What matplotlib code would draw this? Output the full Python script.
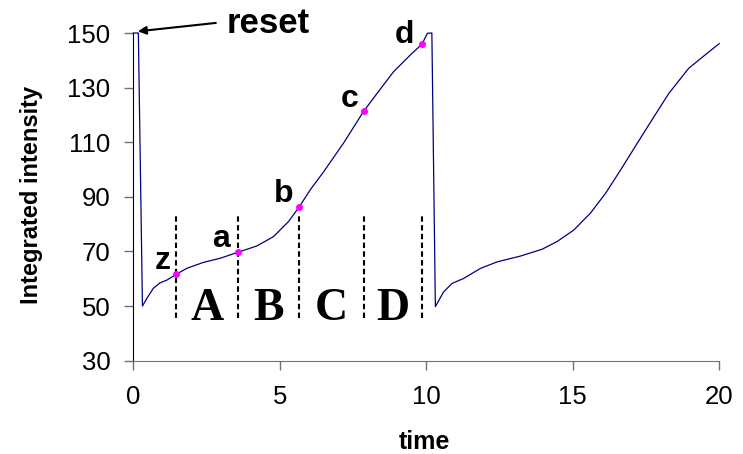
import matplotlib
matplotlib.use("Agg")
import matplotlib.pyplot as plt

plt.rcParams['font.family'] = ['Liberation Sans', 'DejaVu Sans']

# curve (two charge/reset cycles)
time_vals = [0.0, 0.17, 0.31, 0.46, 0.68, 0.91, 1.14, 1.46, 1.82, 2.39, 2.96,
             3.57, 4.21, 4.78, 5.30, 5.66, 6.04, 6.49, 7.17, 7.86, 8.32, 8.88,
             9.45, 9.85, 10.04, 10.19, 10.31, 10.59, 10.88, 11.27, 11.85, 12.42,
             13.21, 13.95, 14.46, 15.03, 15.60, 16.12, 16.63, 17.20, 17.77,
             18.28, 18.96, 19.59, 20.00]
intensity = [150.0, 150.0, 50.0, 52.8, 56.5, 58.5, 59.5, 61.6, 63.8, 66.0, 67.5,
             69.7, 72.0, 75.4, 81.0, 86.3, 92.6, 99.1, 109.6, 121.3, 127.9, 135.8,
             141.9, 145.9, 149.9, 150.0, 49.8, 55.2, 58.3, 60.1, 63.8, 66.2,
             68.3, 70.8, 73.6, 77.8, 84.0, 91.3, 99.8, 109.6, 119.3,
             127.9, 137.1, 142.6, 146.1]

# marked points
point_names = ['z', 'a', 'b', 'c', 'd']
point_t = [1.46, 3.57, 5.66, 7.86, 9.85]
point_y = [61.6, 69.7, 86.3, 121.3, 145.9]
label_t = [1.00, 2.99, 5.12, 7.37, 9.25]
label_y = [63.4, 71.5, 88.2, 123.0, 146.5]

# phases between the dashed lines
phase_names = ['A', 'B', 'C', 'D']
dash_bottom, dash_top = 45.5, 84.0

fig = plt.figure(figsize=(7.43, 4.54), dpi=100)
ax = fig.add_axes([0.1795, 0.2055, 0.7885, 0.7218])

ax.plot(time_vals, intensity, color='#000080', linewidth=0.9, clip_on=False, zorder=3)

for t in point_t:
    ax.plot([t, t], [dash_bottom, dash_top], color='black', linewidth=1.5,
            linestyle=(0, (2.6, 1.6)), zorder=2)

ax.plot(point_t, point_y, 'o', color='#FF00FF', markersize=4, zorder=4)

for name, tx, ty in zip(point_names, label_t, label_y):
    ax.text(tx, ty, name, ha='center', va='baseline', fontsize=23, fontweight='bold')

for i, name in enumerate(phase_names):
    mid = (point_t[i] + point_t[i + 1]) / 2
    ax.text(mid, 44.9, name, ha='center', va='baseline', fontsize=33,
            fontweight='bold', family='Liberation Serif')

ax.annotate('', xy=(0.06, 150.5), xytext=(2.91, 153.8),
            arrowprops=dict(arrowstyle='-|>', color='black', lw=1.5,
                            mutation_scale=12), annotation_clip=False)
ax.text(3.19, 150.0, 'reset', ha='left', va='baseline', fontsize=25, fontweight='bold')

ax.set_xlim(0, 20)
ax.set_ylim(30, 150)
ax.set_xticks([0, 5, 10, 15, 20])
ax.set_yticks([30, 50, 70, 90, 110, 130, 150])

ax.spines['top'].set_visible(False)
ax.spines['right'].set_visible(False)
ax.spines['bottom'].set_color('#707070')
ax.spines['left'].set_color('black')
ax.tick_params(axis='x', length=6.5, width=1, colors='#707070', labelcolor='black',
               labelsize=18.5, pad=11)
ax.tick_params(axis='y', length=6.5, width=1, colors='#707070', labelcolor='black',
               labelsize=18.5, pad=10)

fig.text(31.7 / 743, 0.571, 'Integrated intensity', rotation=90, ha='center',
         va='center', fontsize=17, fontweight='bold')
fig.text(424 / 743, 5 / 454, 'time', ha='center', va='baseline', fontsize=18,
         fontweight='bold')

fig.savefig('out.png', dpi=100)
